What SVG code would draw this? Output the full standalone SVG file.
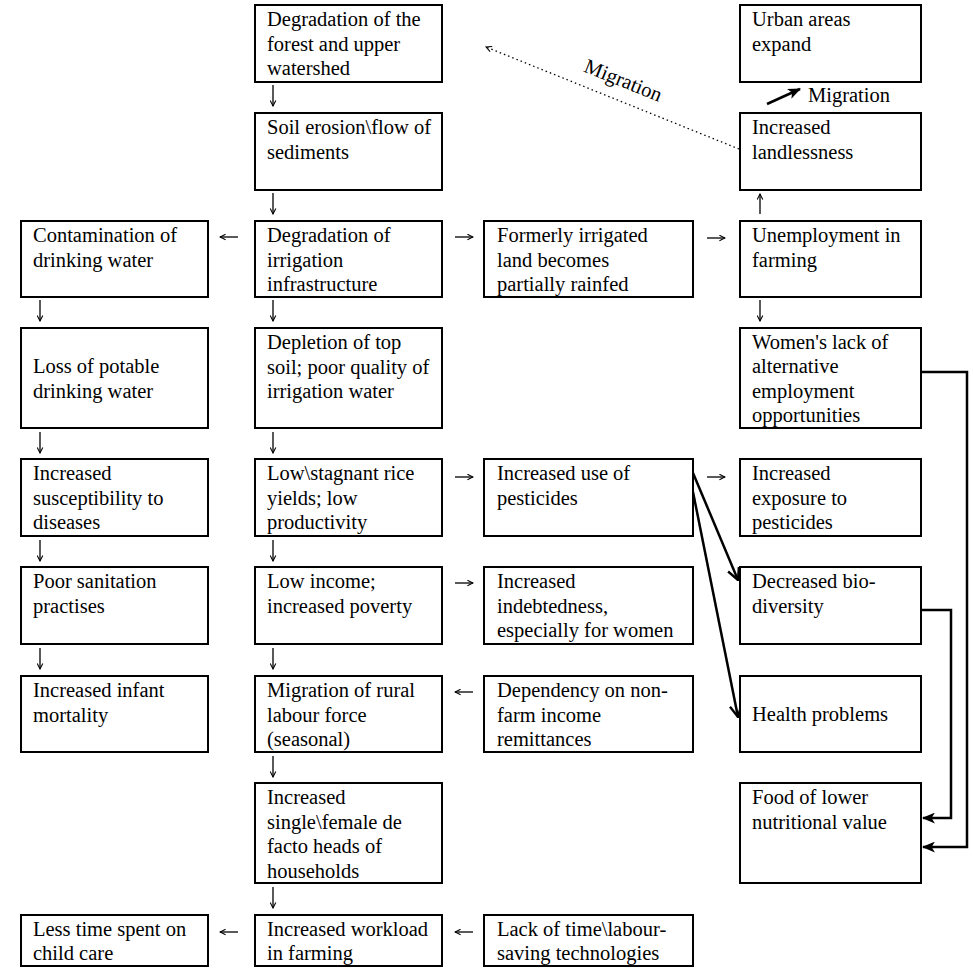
<svg xmlns="http://www.w3.org/2000/svg" width="973" height="978" viewBox="0 0 973 978">
<style>
.box{fill:#fff;stroke:#000;stroke-width:2}
text{font-family:"Liberation Serif","Times New Roman",serif;font-size:20.5px;fill:#000}
.sm{stroke:#000;stroke-width:1.3;fill:none}
.thick{stroke:#000;stroke-width:2.5;fill:none}
.dot{stroke:#000;stroke-width:1.3;fill:none;stroke-dasharray:1.5 3}
</style>
<defs>
<marker id="a" viewBox="0 0 10 10" refX="9" refY="5" markerWidth="7" markerHeight="7" markerUnits="userSpaceOnUse" orient="auto">
<path d="M1,1 L9,5 L1,9" fill="none" stroke="#000" stroke-width="1.5"/>
</marker>
<marker id="v" viewBox="0 0 12 12" refX="11" refY="6" markerWidth="14" markerHeight="14" markerUnits="userSpaceOnUse" orient="auto">
<path d="M1,1 L11,6 L1,11" fill="none" stroke="#000" stroke-width="2"/>
</marker>
<marker id="f" viewBox="0 0 12 10" refX="11" refY="5" markerWidth="13" markerHeight="11" markerUnits="userSpaceOnUse" orient="auto">
<path d="M0,0 L12,5 L0,10 L3,5 Z" fill="#000"/>
</marker>
</defs>
<g id="connectors">
<!-- col2 down arrows -->
<line class="sm" x1="273" y1="85" x2="273" y2="106" marker-end="url(#a)"/>
<line class="sm" x1="273" y1="193" x2="273" y2="214" marker-end="url(#a)"/>
<line class="sm" x1="273" y1="300" x2="273" y2="321" marker-end="url(#a)"/>
<line class="sm" x1="273" y1="432" x2="273" y2="453" marker-end="url(#a)"/>
<line class="sm" x1="273" y1="540" x2="273" y2="561" marker-end="url(#a)"/>
<line class="sm" x1="273" y1="648" x2="273" y2="669" marker-end="url(#a)"/>
<line class="sm" x1="273" y1="756" x2="273" y2="777" marker-end="url(#a)"/>
<line class="sm" x1="273" y1="887" x2="273" y2="908" marker-end="url(#a)"/>
<!-- col1 down arrows -->
<line class="sm" x1="40" y1="300" x2="40" y2="321" marker-end="url(#a)"/>
<line class="sm" x1="40" y1="432" x2="40" y2="453" marker-end="url(#a)"/>
<line class="sm" x1="40" y1="540" x2="40" y2="561" marker-end="url(#a)"/>
<line class="sm" x1="40" y1="648" x2="40" y2="669" marker-end="url(#a)"/>
<!-- col4 -->
<line class="sm" x1="760" y1="300" x2="760" y2="321" marker-end="url(#a)"/>
<line class="sm" x1="760" y1="214" x2="760" y2="194" marker-end="url(#a)"/>
<!-- horizontal -->
<line class="sm" x1="238" y1="237" x2="220" y2="237" marker-end="url(#a)"/>
<line class="sm" x1="455" y1="237" x2="473" y2="237" marker-end="url(#a)"/>
<line class="sm" x1="707" y1="238" x2="725" y2="238" marker-end="url(#a)"/>
<line class="sm" x1="455" y1="477" x2="473" y2="477" marker-end="url(#a)"/>
<line class="sm" x1="707" y1="477" x2="725" y2="477" marker-end="url(#a)"/>
<line class="sm" x1="455" y1="583" x2="473" y2="583" marker-end="url(#a)"/>
<line class="sm" x1="473" y1="692" x2="455" y2="692" marker-end="url(#a)"/>
<line class="sm" x1="238" y1="932" x2="220" y2="932" marker-end="url(#a)"/>
<line class="sm" x1="473" y1="932" x2="455" y2="932" marker-end="url(#a)"/>
<!-- migration dotted -->
<line class="dot" x1="739" y1="149" x2="486" y2="47" marker-end="url(#a)"/>
<text transform="translate(623,81) rotate(22)" x="0" y="6" text-anchor="middle">Migration</text>
<!-- migration solid -->
<line class="thick" x1="767" y1="104" x2="800" y2="89" stroke-width="3" marker-end="url(#f)"/>
<text x="808" y="102">Migration</text>
<!-- diagonals -->
<line class="thick" x1="693" y1="473" x2="738" y2="580" stroke-width="2.2" marker-end="url(#v)"/>
<line class="thick" x1="693" y1="492" x2="738" y2="717" stroke-width="2.2" marker-end="url(#v)"/>
<!-- right connectors -->
<path class="thick" d="M921,372 H967 V847 H923" marker-end="url(#f)"/>
<path class="thick" d="M921,610 H951 V818 H923" marker-end="url(#f)"/>
</g>
<g id="n1"><rect class="box" x="255" y="5" width="187" height="77"/><text x="267" y="26">Degradation of the</text><text x="267" y="50.5">forest and upper</text><text x="267" y="75">watershed</text></g>
<g id="n2"><rect class="box" x="740" y="5" width="181" height="77"/><text x="752" y="26">Urban areas</text><text x="752" y="50.5">expand</text></g>
<g id="n3"><rect class="box" x="255" y="113" width="187" height="77"/><text x="267" y="134">Soil erosion\flow of</text><text x="267" y="158.5">sediments</text></g>
<g id="n4"><rect class="box" x="740" y="113" width="181" height="77"/><text x="752" y="134">Increased</text><text x="752" y="158.5">landlessness</text></g>
<g id="n5"><rect class="box" x="21" y="221" width="187" height="76"/><text x="33" y="242">Contamination of</text><text x="33" y="266.5">drinking water</text></g>
<g id="n6"><rect class="box" x="255" y="221" width="187" height="76"/><text x="267" y="242">Degradation of</text><text x="267" y="266.5">irrigation</text><text x="267" y="291">infrastructure</text></g>
<g id="n7"><rect class="box" x="484" y="221" width="209" height="76"/><text x="497" y="242">Formerly irrigated</text><text x="497" y="266.5">land becomes</text><text x="497" y="291">partially rainfed</text></g>
<g id="n8"><rect class="box" x="740" y="221" width="181" height="76"/><text x="752" y="242">Unemployment in</text><text x="752" y="266.5">farming</text></g>
<g id="n9"><rect class="box" x="21" y="328" width="187" height="100"/><text x="33" y="373">Loss of potable</text><text x="33" y="397.5">drinking water</text></g>
<g id="n10"><rect class="box" x="255" y="328" width="187" height="100"/><text x="267" y="349">Depletion of top</text><text x="267" y="373.5">soil; poor quality of</text><text x="267" y="398">irrigation water</text></g>
<g id="n11"><rect class="box" x="740" y="328" width="181" height="100"/><text x="752" y="349">Women's lack of</text><text x="752" y="373">alternative</text><text x="752" y="397.5">employment</text><text x="752" y="422">opportunities</text></g>
<g id="n12"><rect class="box" x="21" y="459" width="187" height="77"/><text x="33" y="480">Increased</text><text x="33" y="504.5">susceptibility to</text><text x="33" y="529">diseases</text></g>
<g id="n13"><rect class="box" x="255" y="459" width="187" height="77"/><text x="267" y="480">Low\stagnant rice</text><text x="267" y="504.5">yields; low</text><text x="267" y="529">productivity</text></g>
<g id="n14"><rect class="box" x="484" y="459" width="209" height="77"/><text x="497" y="480">Increased use of</text><text x="497" y="504.5">pesticides</text></g>
<g id="n15"><rect class="box" x="740" y="459" width="181" height="77"/><text x="752" y="480">Increased</text><text x="752" y="504.5">exposure to</text><text x="752" y="529">pesticides</text></g>
<g id="n16"><rect class="box" x="21" y="567" width="187" height="77"/><text x="33" y="588">Poor sanitation</text><text x="33" y="612.5">practises</text></g>
<g id="n17"><rect class="box" x="255" y="567" width="187" height="77"/><text x="267" y="588">Low income;</text><text x="267" y="612.5">increased poverty</text></g>
<g id="n18"><rect class="box" x="484" y="567" width="209" height="77"/><text x="497" y="588">Increased</text><text x="497" y="612.5">indebtedness,</text><text x="497" y="637">especially for women</text></g>
<g id="n19"><rect class="box" x="740" y="567" width="181" height="77"/><text x="752" y="588">Decreased bio-</text><text x="752" y="612.5">diversity</text></g>
<g id="n20"><rect class="box" x="21" y="676" width="187" height="76"/><text x="33" y="697">Increased infant</text><text x="33" y="721.5">mortality</text></g>
<g id="n21"><rect class="box" x="255" y="676" width="187" height="76"/><text x="267" y="697">Migration of rural</text><text x="267" y="721.5">labour force</text><text x="267" y="746">(seasonal)</text></g>
<g id="n22"><rect class="box" x="484" y="676" width="209" height="76"/><text x="497" y="697">Dependency on non-</text><text x="497" y="721.5">farm income</text><text x="497" y="746">remittances</text></g>
<g id="n23"><rect class="box" x="740" y="676" width="181" height="76"/><text x="752" y="721">Health problems</text></g>
<g id="n24"><rect class="box" x="255" y="783" width="187" height="100"/><text x="267" y="804">Increased</text><text x="267" y="828.5">single\female de</text><text x="267" y="853">facto heads of</text><text x="267" y="877.5">households</text></g>
<g id="n25"><rect class="box" x="740" y="783" width="181" height="100"/><text x="752" y="804">Food of lower</text><text x="752" y="828.5">nutritional value</text></g>
<g id="n26"><rect class="box" x="21" y="915" width="187" height="51"/><text x="33" y="936">Less time spent on</text><text x="33" y="959.5">child care</text></g>
<g id="n27"><rect class="box" x="255" y="915" width="187" height="51"/><text x="267" y="936">Increased workload</text><text x="267" y="959.5">in farming</text></g>
<g id="n28"><rect class="box" x="484" y="915" width="209" height="51"/><text x="497" y="936">Lack of time\labour-</text><text x="497" y="959.5">saving technologies</text></g>
</svg>
